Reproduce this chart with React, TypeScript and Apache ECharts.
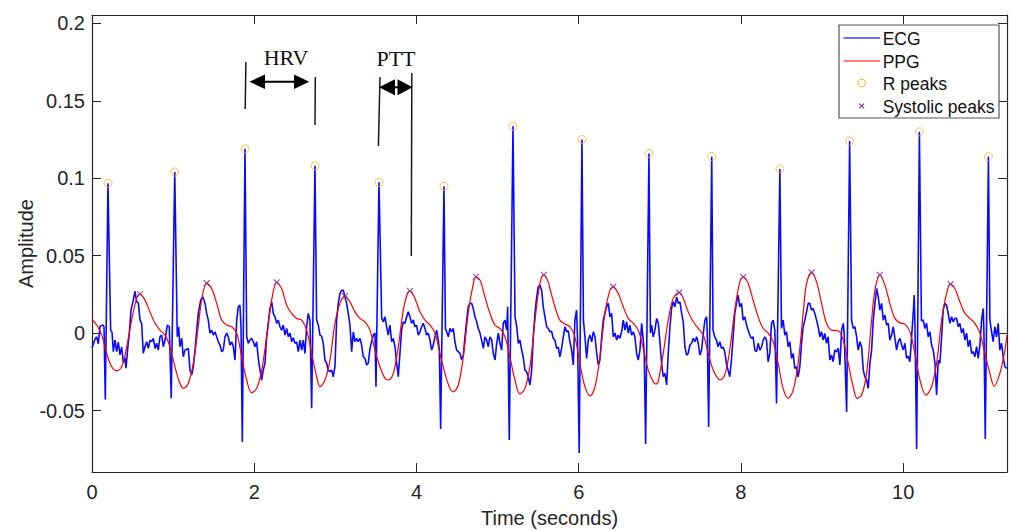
import React, { useEffect, useRef } from "react";
import * as echarts from "echarts";

// ECG trace [time (s), amplitude]
const ecgSignal: [number, number][] = [
  [0, -0.0097], [0.037, -0.004], [0.058, -0.0024], [0.078, -0.007], [0.099, 0.0045], [0.132, 0.0052], [0.148, 0.004],
  [0.164, -0.0428], [0.197, 0.0968], [0.23, 0.0019], [0.247, 0.0005], [0.263, -0.012], [0.283, -0.0045], [0.304, -0.012],
  [0.324, -0.0058], [0.345, -0.014], [0.366, -0.009], [0.386, -0.019], [0.407, -0.016], [0.419, -0.0226], [0.44, -0.01],
  [0.46, 0], [0.481, 0.0148], [0.509, 0.0213], [0.53, 0.027], [0.551, 0.0202], [0.571, 0.0195], [0.592, 0.0084],
  [0.612, 0.0063], [0.632, -0.0131], [0.653, -0.0088], [0.674, -0.0056], [0.694, -0.0099], [0.715, -0.0045], [0.736, -0.0056],
  [0.756, -0.0034], [0.777, -0.0099], [0.797, -0.0066], [0.817, -0.011], [0.838, -0.0024], [0.859, -0.0013], [0.879, -0.0088],
  [0.9, -0.0045], [0.928, 0.0052], [0.953, 0.0041], [0.977, -0.0421], [1.02, 0.104], [1.051, -0.0024], [1.068, 0.0041],
  [1.085, -0.0088], [1.106, -0.0034], [1.125, -0.0153], [1.146, -0.011], [1.167, -0.0105], [1.187, -0.0099], [1.208, -0.0239],
  [1.229, -0.0271], [1.249, -0.0217], [1.27, -0.011], [1.291, 0.0019], [1.31, 0.0127], [1.34, 0.0213], [1.365, 0.0234],
  [1.393, 0.0192], [1.414, 0.0127], [1.434, 0.0084], [1.454, 0], [1.475, 0.0019], [1.495, -0.0013], [1.516, 0.0008],
  [1.537, -0.0024], [1.557, -0.0056], [1.578, -0.0077], [1.598, -0.012], [1.618, -0.011], [1.639, -0.0024], [1.66, 0],
  [1.68, -0.0024], [1.701, -0.0077], [1.722, -0.0056], [1.742, -0.0088], [1.763, -0.0174], [1.784, 0.0084], [1.803, 0.017],
  [1.824, 0.018], [1.837, 0.004], [1.853, -0.0703], [1.886, 0.119], [1.907, -0.0024], [1.927, -0.0066], [1.947, -0.0045],
  [1.968, -0.0034], [1.988, -0.0056], [2.009, -0.0088], [2.03, -0.0056], [2.05, -0.0163], [2.071, -0.0239], [2.091, -0.0303],
  [2.111, -0.0239], [2.132, -0.0196], [2.153, -0.0024], [2.173, 0.0063], [2.194, 0.0159], [2.215, 0.0202], [2.235, 0.0127],
  [2.256, 0.0105], [2.277, 0.0063], [2.297, 0.0084], [2.317, 0.0041], [2.338, 0.0019], [2.358, 0.0052], [2.379, -0.0013],
  [2.4, 0.003], [2.42, -0.0024], [2.441, 0], [2.461, -0.0056], [2.481, -0.003], [2.502, -0.0066], [2.523, -0.0056],
  [2.543, -0.012], [2.564, -0.0045], [2.584, -0.011], [2.604, -0.0045], [2.625, -0.0131], [2.646, 0.0041], [2.666, 0.0127],
  [2.687, 0.0084], [2.708, -0.0486], [2.749, 0.108], [2.769, 0.0084], [2.79, 0.0052], [2.81, -0.0013], [2.831, -0.002],
  [2.851, -0.0066], [2.872, -0.0174], [2.893, -0.0196], [2.913, -0.0239], [2.934, -0.025], [2.955, -0.0239], [2.974, -0.0282],
  [2.995, -0.0217], [3.016, 0.0084], [3.036, 0.0192], [3.057, 0.0256], [3.078, 0.0277], [3.098, 0.0277], [3.118, 0.0234],
  [3.139, 0.0192], [3.159, 0.0127], [3.18, 0.0052], [3.201, -0.012], [3.221, 0.0008], [3.242, -0.0056], [3.263, -0.0034],
  [3.282, -0.0056], [3.303, -0.0034], [3.324, -0.0077], [3.344, -0.0153], [3.365, -0.0163], [3.386, -0.0206], [3.406, -0.0195],
  [3.427, -0.0099], [3.447, -0.0056], [3.468, -0.0013], [3.488, 0], [3.501, -0.0346], [3.538, 0.0974], [3.571, 0.0097],
  [3.591, 0.0073], [3.612, 0.0105], [3.632, 0.0041], [3.652, -0.0013], [3.673, 0.0052], [3.694, -0.0056], [3.714, -0.0035],
  [3.735, -0.0088], [3.756, -0.0196], [3.776, -0.0282], [3.796, -0.0131], [3.817, 0.0019], [3.837, 0.0073], [3.858, 0.0063],
  [3.879, 0.0105], [3.899, 0.0137], [3.92, 0.0105], [3.94, 0.0063], [3.961, 0.0085], [3.981, 0.0041], [4.002, 0.005],
  [4.022, -0.0013], [4.043, 0.0008], [4.064, 0.0041], [4.084, 0.0063], [4.105, 0.003], [4.125, -0.0013], [4.145, 0],
  [4.166, -0.0045], [4.187, -0.011], [4.207, -0.0077], [4.228, -0.0024], [4.249, 0.0019], [4.269, -0.0045], [4.282, -0.011],
  [4.298, -0.0619], [4.339, 0.0948], [4.357, 0.003], [4.372, 0.0008], [4.392, -0.0024], [4.413, 0.003], [4.434, 0.0008],
  [4.454, 0.003], [4.474, -0.0056], [4.495, -0.011], [4.516, -0.012], [4.536, -0.0131], [4.557, -0.0174], [4.578, -0.0142],
  [4.598, -0.0024], [4.619, 0.0084], [4.638, 0.017], [4.659, 0.0192], [4.68, 0.0192], [4.7, 0.0159], [4.721, 0.0105],
  [4.742, 0.0073], [4.762, 0.003], [4.783, 0], [4.803, -0.0045], [4.824, -0.0099], [4.844, -0.0024], [4.865, -0.0045],
  [4.885, -0.0088], [4.906, -0.0024], [4.927, -0.0045], [4.947, -0.0131], [4.968, -0.0174], [4.989, -0.0066], [5.009, 0],
  [5.029, -0.0066], [5.05, -0.011], [5.07, 0.0063], [5.091, 0.0084], [5.111, 0.002], [5.124, 0.017], [5.144, -0.069],
  [5.19, 0.1335], [5.215, 0.0105], [5.236, 0.0041], [5.256, -0.0066], [5.276, -0.0045], [5.297, -0.011], [5.316, -0.0153],
  [5.337, -0.0239], [5.358, -0.025], [5.378, -0.0282], [5.399, -0.0335], [5.42, -0.0239], [5.44, -0.0024], [5.461, 0.0127],
  [5.482, 0.0234], [5.501, 0.0299], [5.522, 0.031], [5.543, 0.0277], [5.563, 0.017], [5.584, 0.0105], [5.605, 0.0041],
  [5.625, 0.003], [5.645, 0.0008], [5.666, 0.0012], [5.686, -0.0034], [5.707, -0.0045], [5.728, -0.0099], [5.748, -0.009],
  [5.768, -0.0153], [5.789, -0.0099], [5.81, -0.0024], [5.83, 0.0041], [5.851, 0.0008], [5.871, 0.0015], [5.892, -0.0056],
  [5.913, -0.011], [5.933, -0.0206], [5.953, 0.0084], [5.974, 0.0148], [5.986, -0.0045], [6.006, -0.0775], [6.04, 0.125],
  [6.058, 0.0084], [6.077, -0.0024], [6.098, -0.0163], [6.118, -0.0045], [6.139, -0.0013], [6.16, -0.0056], [6.18, 0.0008],
  [6.201, -0.0024], [6.222, -0.0131], [6.242, -0.0206], [6.262, -0.0174], [6.283, -0.0024], [6.303, 0.0084], [6.323, 0.0127],
  [6.344, 0.017], [6.365, 0.0192], [6.385, 0.0105], [6.406, 0.0127], [6.426, -0.0024], [6.447, 0], [6.468, -0.0045],
  [6.488, -0.0013], [6.508, -0.0034], [6.529, 0.0008], [6.549, 0.0084], [6.57, 0.0019], [6.591, 0.0073], [6.611, 0],
  [6.631, 0.0052], [6.652, -0.0013], [6.673, 0.0008], [6.693, -0.0024], [6.714, -0.0131], [6.734, -0.0174], [6.755, -0.011],
  [6.776, 0.0063], [6.796, -0.0045], [6.808, -0.0131], [6.825, -0.0716], [6.866, 0.116], [6.884, 0], [6.899, 0.0052],
  [6.919, -0.0024], [6.94, 0.0019], [6.961, 0.0095], [6.981, 0.0063], [7.001, -0.0056], [7.022, -0.0196], [7.042, -0.0282],
  [7.063, -0.026], [7.084, -0.0335], [7.104, -0.0131], [7.125, 0.0041], [7.145, 0.0159], [7.165, 0.0202], [7.186, 0.017],
  [7.207, 0.0234], [7.227, 0.0192], [7.248, 0.0202], [7.269, 0.0127], [7.289, 0.0073], [7.309, -0.0088], [7.33, -0.0142],
  [7.35, -0.0131], [7.371, -0.0077], [7.392, -0.0066], [7.412, -0.0034], [7.433, -0.0056], [7.454, -0.0024], [7.474, -0.0066],
  [7.494, -0.0142], [7.515, -0.011], [7.536, 0], [7.556, 0.0084], [7.577, 0.0105], [7.584, 0.0019], [7.602, -0.0606],
  [7.64, 0.114], [7.656, 0.0019], [7.677, -0.0024], [7.698, -0.0045], [7.718, -0.0088], [7.739, -0.0056], [7.76, -0.0099],
  [7.78, -0.009], [7.8, -0.012], [7.821, -0.0196], [7.841, -0.0239], [7.862, -0.0282], [7.883, -0.0174], [7.904, -0.0024],
  [7.924, 0.0127], [7.945, 0.0192], [7.965, 0.0245], [7.986, 0.017], [8.007, 0.0192], [8.027, 0.0084], [8.048, 0.0105],
  [8.069, 0.0052], [8.089, 0.0019], [8.109, -0.0013], [8.13, -0.0034], [8.15, -0.0024], [8.171, -0.011], [8.192, -0.012],
  [8.212, -0.0066], [8.233, -0.011], [8.254, -0.009], [8.274, -0.0045], [8.295, -0.0024], [8.315, -0.0045], [8.335, -0.0185],
  [8.356, -0.0131], [8.377, 0.0063], [8.397, 0.0084], [8.418, 0.0019], [8.439, -0.0454], [8.48, 0.106], [8.5, 0.003],
  [8.52, 0.0084], [8.541, -0.0013], [8.562, 0.0008], [8.582, -0.0088], [8.603, -0.0056], [8.624, -0.0163], [8.644, -0.0131],
  [8.664, -0.0228], [8.685, -0.0217], [8.705, -0.0282], [8.726, -0.0217], [8.747, -0.0066], [8.767, 0.0041], [8.788, 0.0084],
  [8.809, 0.0137], [8.829, 0.0192], [8.849, 0.0192], [8.87, 0.0148], [8.89, 0.0159], [8.911, 0.0127], [8.932, 0.0084],
  [8.952, 0.0041], [8.973, -0.0024], [8.994, 0.0008], [9.014, -0.0045], [9.034, -0.0002], [9.055, -0.0066], [9.075, -0.0024],
  [9.096, -0.0174], [9.117, -0.0142], [9.137, -0.0185], [9.158, -0.011], [9.179, -0.012], [9.199, -0.0099], [9.22, -0.0206],
  [9.241, 0.0019], [9.261, 0.0063], [9.273, -0.0002], [9.303, -0.051], [9.34, 0.124], [9.364, 0.0084], [9.384, 0.003],
  [9.405, 0.0041], [9.426, -0.0024], [9.446, -0.011], [9.467, -0.0056], [9.488, -0.0088], [9.508, -0.0239], [9.528, -0.0282],
  [9.549, -0.0303], [9.569, -0.0357], [9.59, -0.0196], [9.611, -0.011], [9.631, 0.0084], [9.652, 0.0192], [9.673, 0.0288],
  [9.693, 0.0234], [9.713, 0.0148], [9.734, 0.0192], [9.754, 0.0084], [9.775, 0.0116], [9.796, 0.0052], [9.816, 0.0063],
  [9.836, -0.0045], [9.857, -0.0013], [9.878, 0.0041], [9.898, -0.0034], [9.919, -0.011], [9.939, -0.0056], [9.96, -0.0034],
  [9.981, -0.0077], [10.001, -0.011], [10.021, -0.0066], [10.042, -0.0163], [10.062, -0.015], [10.083, -0.0185], [10.104, -0.0024],
  [10.124, 0.0127], [10.136, 0.0245], [10.145, 0.0063], [10.166, -0.0748], [10.2, 0.13], [10.225, 0.008], [10.247, 0.0084],
  [10.268, 0.003], [10.289, 0.0063], [10.309, -0.0024], [10.33, 0.0008], [10.35, -0.0077], [10.371, -0.011], [10.392, -0.0196],
  [10.412, -0.04], [10.433, -0.0174], [10.453, -0.0196], [10.474, -0.0024], [10.493, 0.0148], [10.514, 0.0192], [10.535, 0.018],
  [10.555, 0.0127], [10.576, 0.0063], [10.597, 0.0105], [10.617, 0.0073], [10.637, 0.0095], [10.658, 0.0095], [10.679, 0.0041],
  [10.699, 0.0063], [10.72, 0], [10.74, 0.003], [10.761, -0.0045], [10.782, 0], [10.802, -0.0088], [10.823, -0.0045],
  [10.844, -0.0131], [10.864, -0.012], [10.884, -0.0153], [10.905, -0.0088], [10.926, -0.0163], [10.946, -0.0077], [10.967, 0.0084],
  [10.987, 0.0159], [10.996, -0.0002], [11.012, -0.0684], [11.051, 0.114], [11.069, 0.0084], [11.09, 0.0008], [11.11, -0.0056],
  [11.13, 0.0041], [11.151, -0.0024], [11.171, 0.0063], [11.192, -0.011], [11.213, -0.0066], [11.233, -0.0153], [11.254, -0.0217],
  [11.275, -0.0228],
];

// PPG trace [time (s), amplitude]
const ppgSignal: [number, number][] = [
  [0, 0.0088], [0.058, 0.0052], [0.12, -0.0013], [0.181, -0.0131], [0.243, -0.0217], [0.304, -0.0243], [0.366, -0.0217],
  [0.428, -0.0088], [0.489, 0.0084], [0.551, 0.0224], [0.592, 0.0252], [0.653, 0.0213], [0.715, 0.0137], [0.777, 0.0063],
  [0.838, 0.0019], [0.9, -0.0013], [0.94, -0.0056], [0.982, -0.0131], [1.044, -0.026], [1.085, -0.0325], [1.125, -0.0357],
  [1.187, -0.0325], [1.249, -0.0196], [1.31, 0.0041], [1.352, 0.0213], [1.414, 0.0322], [1.475, 0.0288], [1.537, 0.0192],
  [1.598, 0.0084], [1.66, 0.0052], [1.722, 0.0041], [1.784, 0], [1.845, -0.0153], [1.907, -0.0303], [1.968, -0.0385],
  [2.03, -0.0357], [2.092, -0.0239], [2.153, -0.0024], [2.215, 0.0213], [2.277, 0.0327], [2.338, 0.0288], [2.4, 0.018],
  [2.461, 0.0127], [2.523, 0.0095], [2.585, 0.0084], [2.646, 0.0019], [2.708, -0.0131], [2.77, -0.0282], [2.81, -0.0346],
  [2.872, -0.0303], [2.934, -0.0174], [2.995, 0.0063], [3.057, 0.0192], [3.118, 0.0239], [3.18, 0.0202], [3.242, 0.0137],
  [3.303, 0.0095], [3.365, 0.0073], [3.427, 0.0019], [3.488, -0.011], [3.55, -0.0217], [3.612, -0.0292], [3.652, -0.0303],
  [3.714, -0.026], [3.776, -0.0088], [3.837, 0.0148], [3.886, 0.0252], [3.92, 0.0273], [3.981, 0.0224], [4.043, 0.0137],
  [4.105, 0.0084], [4.166, 0.0052], [4.228, 0], [4.289, -0.0131], [4.351, -0.026], [4.413, -0.0357], [4.454, -0.0379],
  [4.516, -0.0335], [4.577, -0.0153], [4.638, 0.0127], [4.693, 0.0299], [4.733, 0.0363], [4.783, 0.0342], [4.844, 0.0234],
  [4.906, 0.0127], [4.967, 0.0052], [5.029, 0.003], [5.091, -0.0024], [5.152, -0.0153], [5.214, -0.0303], [5.276, -0.0394],
  [5.337, -0.0357], [5.399, -0.0217], [5.461, 0.0084], [5.522, 0.032], [5.571, 0.0376], [5.624, 0.0331], [5.645, 0.0288],
  [5.707, 0.017], [5.768, 0.0084], [5.83, 0.0058], [5.892, 0.0041], [5.953, -0.0024], [6.015, -0.0196], [6.077, -0.0346],
  [6.139, -0.0406], [6.201, -0.0346], [6.262, -0.0153], [6.323, 0.0127], [6.385, 0.0277], [6.426, 0.0299], [6.488, 0.0256],
  [6.549, 0.017], [6.611, 0.0095], [6.673, 0.0063], [6.734, 0.0019], [6.796, -0.0099], [6.857, -0.0239], [6.919, -0.0314],
  [6.952, -0.033], [6.981, -0.031], [7.042, -0.0131], [7.104, 0.0084], [7.165, 0.0224], [7.239, 0.0262], [7.289, 0.0224],
  [7.35, 0.0137], [7.412, 0.0073], [7.474, 0.003], [7.536, -0.0013], [7.597, -0.0131], [7.659, -0.0239], [7.742, -0.0303],
  [7.8, -0.0271], [7.862, -0.011], [7.924, 0.0148], [7.986, 0.0331], [8.028, 0.0363], [8.089, 0.032], [8.15, 0.0213],
  [8.212, 0.0105], [8.274, 0.003], [8.336, 0], [8.397, -0.0056], [8.459, -0.0196], [8.52, -0.0357], [8.582, -0.0421],
  [8.644, -0.0368], [8.705, -0.0196], [8.767, 0.0127], [8.809, 0.032], [8.871, 0.0391], [8.932, 0.0331], [8.994, 0.0192],
  [9.055, 0.0063], [9.117, 0.0019], [9.199, 0.0015], [9.261, -0.0045], [9.323, -0.0196], [9.384, -0.0346], [9.434, -0.0421],
  [9.488, -0.04], [9.549, -0.026], [9.611, 0.0084], [9.652, 0.0277], [9.713, 0.0376], [9.775, 0.031], [9.836, 0.0192],
  [9.898, 0.0095], [9.96, 0.0066], [10.021, 0.0058], [10.083, 0.0008], [10.145, -0.0131], [10.207, -0.0303], [10.281, -0.04],
  [10.35, -0.0346], [10.412, -0.0196], [10.474, 0.0084], [10.535, 0.0256], [10.584, 0.0316], [10.637, 0.0288], [10.699, 0.0202],
  [10.761, 0.0127], [10.823, 0.0095], [10.884, 0.0063], [10.946, 0], [11.007, -0.0131], [11.069, -0.026], [11.122, -0.0342],
  [11.192, -0.026], [11.254, -0.011], [11.28, -0.0013],
];

const rPeakTimes = [0.197, 1.02, 1.886, 2.749, 3.538, 4.339, 5.19, 6.04, 6.866, 7.64, 8.48, 9.34, 10.2, 11.051];
const rPeakValues = [0.0968, 0.104, 0.119, 0.108, 0.0974, 0.0948, 0.1335, 0.125, 0.116, 0.114, 0.106, 0.124, 0.13, 0.114];

const sysPeakTimes = [0.592, 1.414, 2.277, 3.118, 3.92, 4.733, 5.571, 6.426, 7.239, 8.028, 8.871, 9.713, 10.584];
const sysPeakValues = [0.0252, 0.0322, 0.0327, 0.0239, 0.0273, 0.0363, 0.0376, 0.0299, 0.0262, 0.0363, 0.0391, 0.0376, 0.0316];

const legendLabels = ["ECG", "PPG", "R peaks", "Systolic peaks"];
const xRange = [0, 11.28];
const yRange = [-0.0897, 0.2054];

const AXIS_COLOR = "#262626";
const SANS = '"Liberation Sans", Arial, Helvetica, sans-serif';
const SERIF = '"Liberation Serif", "Times New Roman", serif';

export default function App() {
  const ref = useRef<HTMLDivElement>(null);

  useEffect(() => {
    if (!ref.current) return;
    const chart = echarts.init(ref.current, undefined, { renderer: "svg" });

    const tickCommon = { show: true, inside: true, length: 9, lineStyle: { color: AXIS_COLOR, width: 1 } };
    const lineCommon = { show: true, onZero: false, lineStyle: { color: AXIS_COLOR, width: 1.2 } };

    const ann = "#1a1a1a";
    const legendX = 839;
    const rowY = [38, 61, 83, 106];

    const option: any = {
      animation: false,
      backgroundColor: "#ffffff",
      grid: { left: 92, top: 15, width: 915, height: 457, outerBoundsMode: "none", containLabel: false },
      xAxis: [
        {
          type: "value",
          min: xRange[0],
          max: xRange[1],
          interval: 2,
          position: "bottom",
          name: "Time (seconds)",
          nameLocation: "middle",
          nameGap: 36,
          nameMoveOverlap: false,
          nameTextStyle: { fontFamily: SANS, fontSize: 20, color: AXIS_COLOR },
          axisLine: lineCommon,
          axisTick: tickCommon,
          splitLine: { show: false },
          axisLabel: { showMaxLabel: false, fontFamily: SANS, fontSize: 20, color: AXIS_COLOR, margin: 10 },
        },
        {
          type: "value",
          min: xRange[0],
          max: xRange[1],
          interval: 2,
          position: "top",
          axisLine: lineCommon,
          axisTick: tickCommon,
          splitLine: { show: false },
          axisLabel: { show: false },
        },
      ],
      yAxis: [
        {
          type: "value",
          min: yRange[0],
          max: yRange[1],
          splitNumber: 6,
          position: "left",
          name: "Amplitude",
          nameLocation: "middle",
          nameGap: 56,
          nameMoveOverlap: false,
          nameTextStyle: { fontFamily: SANS, fontSize: 20, color: AXIS_COLOR },
          axisLine: lineCommon,
          axisTick: tickCommon,
          splitLine: { show: false },
          axisLabel: { showMinLabel: false, showMaxLabel: false, fontFamily: SANS, fontSize: 20, color: AXIS_COLOR, margin: 7 },
        },
        {
          type: "value",
          min: yRange[0],
          max: yRange[1],
          splitNumber: 6,
          position: "right",
          axisLine: lineCommon,
          axisTick: tickCommon,
          splitLine: { show: false },
          axisLabel: { show: false },
        },
      ],
      series: [
        {
          name: legendLabels[0],
          type: "line",
          data: ecgSignal,
          showSymbol: false,
          symbol: "none",
          lineStyle: { color: "#0a0aff", width: 1.6 },
          z: 2,
        },
        {
          name: legendLabels[1],
          type: "line",
          data: ppgSignal,
          showSymbol: false,
          symbol: "none",
          smooth: 0.35,
          lineStyle: { color: "#ff0000", width: 1.2 },
          z: 3,
        },
        {
          name: legendLabels[2],
          type: "scatter",
          data: rPeakTimes.map((t, i) => [t, rPeakValues[i]]),
          symbol: "circle",
          symbolSize: 8,
          itemStyle: { color: "rgba(0,0,0,0)", borderColor: "#EDB120", borderWidth: 1 },
          z: 4,
        },
        {
          name: legendLabels[3],
          type: "scatter",
          data: sysPeakTimes.map((t, i) => [t, sysPeakValues[i]]),
          symbol: "path://M0,0L10,10M0,10L10,0",
          symbolSize: 6,
          itemStyle: { color: "rgba(0,0,0,0)", borderColor: "#7E2F8E", borderWidth: 1.2 },
          z: 4,
        },
      ],
      graphic: {
        elements: [
          // HRV annotation
          { type: "line", z: 100, shape: { x1: 245.9, y1: 62, x2: 245.2, y2: 109 }, style: { stroke: ann, lineWidth: 1.5 } },
          { type: "line", z: 100, shape: { x1: 315.3, y1: 77, x2: 315, y2: 125 }, style: { stroke: ann, lineWidth: 1.5 } },
          { type: "line", z: 100, shape: { x1: 262, y1: 81.7, x2: 297, y2: 81.7 }, style: { stroke: "#000", lineWidth: 2 } },
          { type: "polygon", z: 100, shape: { points: [[249.3, 81.7], [265, 74.5], [265, 89]] }, style: { fill: "#000" } },
          { type: "polygon", z: 100, shape: { points: [[309.3, 81.7], [294, 74.5], [294, 89]] }, style: { fill: "#000" } },
          {
            type: "text", z: 100, x: 286, y: 57.5,
            style: { text: "HRV", fontFamily: SERIF, fontSize: 22, fill: "#111", align: "center", verticalAlign: "middle" },
          },
          // PTT annotation
          { type: "line", z: 100, shape: { x1: 380, y1: 77, x2: 378.4, y2: 146 }, style: { stroke: ann, lineWidth: 1.5 } },
          { type: "line", z: 100, shape: { x1: 411.8, y1: 73, x2: 411.3, y2: 256 }, style: { stroke: ann, lineWidth: 1.5 } },
          { type: "line", z: 100, shape: { x1: 390, y1: 87.3, x2: 402, y2: 87.3 }, style: { stroke: "#000", lineWidth: 2 } },
          { type: "polygon", z: 100, shape: { points: [[379, 87.3], [395, 79.3], [395, 95.3]] }, style: { fill: "#000" } },
          { type: "polygon", z: 100, shape: { points: [[412.5, 87.3], [397.5, 79.3], [397.5, 95.3]] }, style: { fill: "#000" } },
          {
            type: "text", z: 100, x: 396, y: 58.8,
            style: { text: "PTT", fontFamily: SERIF, fontSize: 22, fill: "#111", align: "center", verticalAlign: "middle" },
          },
          // Legend
          {
            type: "rect", z: 100, shape: { x: legendX, y: 25, width: 160, height: 93 },
            style: { fill: "#ffffff", stroke: "#555555", lineWidth: 1.2 },
          },
          { type: "line", z: 101, shape: { x1: 843.5, y1: rowY[0], x2: 880, y2: rowY[0] }, style: { stroke: "#7070ff", lineWidth: 2 } },
          { type: "line", z: 101, shape: { x1: 843.5, y1: rowY[1], x2: 880, y2: rowY[1] }, style: { stroke: "#ff0000", lineWidth: 1.2 } },
          { type: "circle", z: 101, shape: { cx: 861.7, cy: rowY[2], r: 3.8 }, style: { fill: "none", stroke: "#EDB120", lineWidth: 1 } },
          { type: "line", z: 101, shape: { x1: 859.3, y1: rowY[3] - 2.4, x2: 864.1, y2: rowY[3] + 2.4 }, style: { stroke: "#7E2F8E", lineWidth: 1.1 } },
          { type: "line", z: 101, shape: { x1: 859.3, y1: rowY[3] + 2.4, x2: 864.1, y2: rowY[3] - 2.4 }, style: { stroke: "#7E2F8E", lineWidth: 1.1 } },
          ...legendLabels.map((label, i) => ({
            type: "text",
            z: 101,
            x: 882.7,
            y: rowY[i] + 0.5,
            style: { text: label, fontFamily: SANS, fontSize: 17.5, fill: "#111", align: "left", verticalAlign: "middle" },
          })),
        ],
      },
    };

    chart.setOption(option);
    return () => chart.dispose();
  }, []);

  return (
    <div
      ref={ref}
      style={{ position: "absolute", left: 0, top: 0, width: 1011, height: 531, background: "#fff" }}
    />
  );
}
